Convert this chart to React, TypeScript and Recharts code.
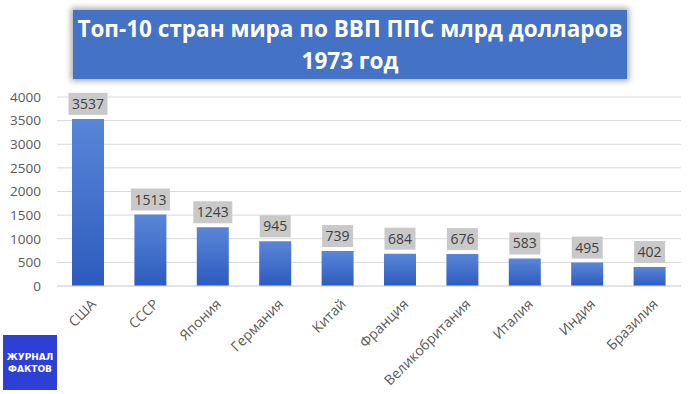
import React from 'react';
import { BarChart, Bar, XAxis, YAxis, CartesianGrid, LabelList } from 'recharts';

const countries = ['США', 'СССР', 'Япония', 'Германия', 'Китай', 'Франция', 'Великобритания', 'Италия', 'Индия', 'Бразилия'];
const gdp = [3537, 1513, 1243, 945, 739, 684, 676, 583, 495, 402];
const yTicks = [0, 500, 1000, 1500, 2000, 2500, 3000, 3500, 4000];

const data = countries.map((name, i) => ({ name, value: gdp[i] }));

const FONT = '"Open Sans", "DejaVu Sans", sans-serif';

const ValueBox = (props: any) => {
  const { x, y, width, value } = props;
  const text = String(value);
  const w = text.length * 8 + 7;
  const h = 22;
  const cx = x + width / 2;
  return (
    <g>
      <rect x={cx - w / 2} y={y - h - 4} width={w} height={h} fill="#C9C9C9" />
      <text x={cx} y={y - 4 - h / 2} dy="0.36em" textAnchor="middle" fontSize={14} fill="#404040" fontFamily={FONT}>
        {text}
      </text>
    </g>
  );
};

const CountryTick = (props: any) => {
  const { x, y, payload } = props;
  return (
    <g transform={`translate(${x + 2},${y + 4})`}>
      <text transform="rotate(-45)" textAnchor="end" dy="0.7em" fontSize={14} fill="#595959" fontFamily={FONT}>
        {payload.value}
      </text>
    </g>
  );
};

const App: React.FC = () => {
  return (
    <div style={{ position: 'absolute', left: 0, top: 0, width: 700, height: 394, background: '#fff', fontFamily: FONT }}>
      <BarChart width={700} height={394} data={data} margin={{ top: 97, right: 19, left: 0, bottom: 8 }}>
        <defs>
          <linearGradient id="barFill" x1="0" y1="0" x2="0" y2="1">
            <stop offset="0%" stopColor="#5A86D8" />
            <stop offset="100%" stopColor="#2D5BBE" />
          </linearGradient>
        </defs>
        <CartesianGrid vertical={false} stroke="#D9D9D9" />
        <XAxis
          dataKey="name"
          interval={0}
          height={100}
          tickLine={false}
          axisLine={{ stroke: '#D9D9D9' }}
          tick={<CountryTick />}
        />
        <YAxis
          width={57}
          domain={[0, 4000]}
          ticks={yTicks}
          tickLine={false}
          axisLine={false}
          tick={{ fontSize: 13.5, fill: '#595959', fontFamily: FONT }}
          tickMargin={10}
        />
        <Bar dataKey="value" fill="url(#barFill)" barSize={32} isAnimationActive={false}>
          <LabelList dataKey="value" content={<ValueBox />} />
        </Bar>
      </BarChart>

      <div
        style={{
          position: 'absolute',
          left: 73,
          top: 10,
          width: 554,
          height: 69,
          background: '#4472C4',
          boxShadow: '0 0 6px 2px rgba(0,0,0,0.35)',
          color: '#fff',
          fontWeight: 700,
          fontSize: 22.5,
          lineHeight: '32px',
          textAlign: 'center',
          paddingTop: 3,
          boxSizing: 'border-box',
        }}
      >
        Топ-10 стран мира по ВВП ППС млрд долларов
        <br />
        1973 год
      </div>

      <div
        style={{
          position: 'absolute',
          left: 3,
          top: 335,
          width: 54,
          height: 55,
          background: '#2E3FD6',
          color: '#fff',
          fontWeight: 800,
          fontSize: 9,
          lineHeight: '12px',
          textAlign: 'center',
          display: 'flex',
          flexDirection: 'column',
          justifyContent: 'center',
          fontFamily: '"DejaVu Sans", sans-serif',
        }}
      >
        <span>ЖУРНАЛ</span>
        <span>ФАКТОВ</span>
      </div>
    </div>
  );
};

export default App;
